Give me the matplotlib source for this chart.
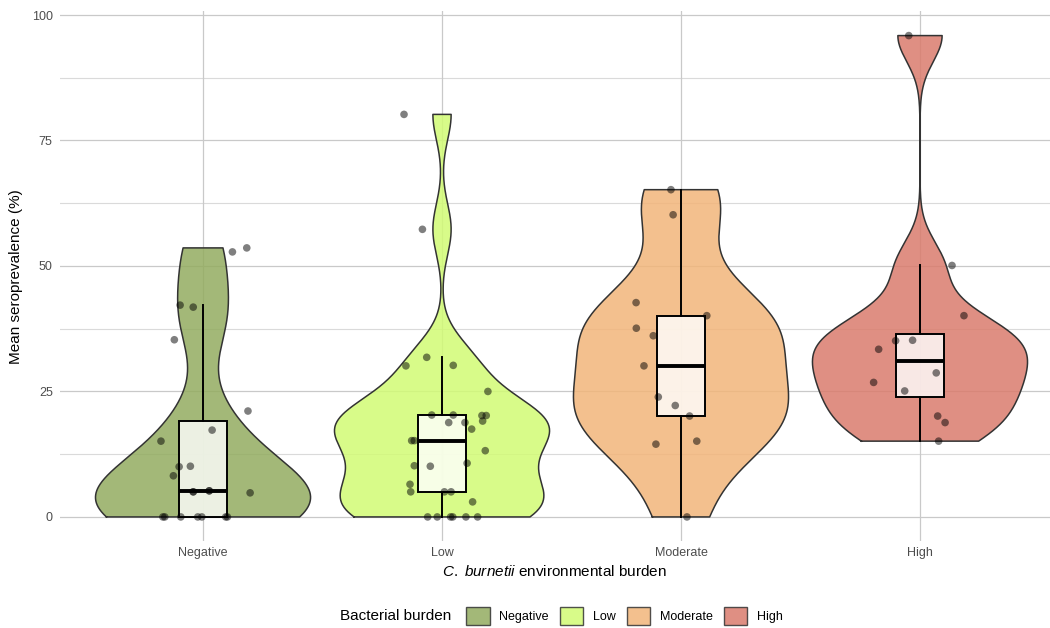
import numpy as np
import matplotlib
matplotlib.use("Agg")
import matplotlib.pyplot as plt
from matplotlib.patches import Patch

plt.rcParams['font.family'] = ['Liberation Sans', 'DejaVu Sans']
plt.rcParams['mathtext.fontset'] = 'custom'
plt.rcParams['mathtext.it'] = 'Liberation Sans:italic'
plt.rcParams['mathtext.rm'] = 'Liberation Sans'

# ---------------- data ----------------
categories = ["Negative", "Low", "Moderate", "High"]

negative_vals = [52.8, 53.6, 42.2, 41.8, 35.3, 21.1, 17.3, 15.1, 10.0, 10.1, 8.2, 5.0, 5.0, 5.2, 5.2, 4.8,
                 0, 0, 0, 0, 0, 0, 0]
negative_jit = [0.123, 0.183, -0.096, -0.041, -0.120, 0.188, 0.038, -0.176, -0.100, -0.053, -0.124,
                -0.041, -0.041, 0.026, 0.026, 0.197,
                -0.168, -0.160, -0.093, -0.022, -0.005, 0.095, 0.102]

low_vals = [80.2, 57.3, 31.8, 30.1, 30.2, 25.0, 20.3, 20.3, 20.2, 20.2, 18.8, 18.8, 19.1, 17.5,
            15.2, 15.2, 13.2, 10.2, 10.1, 10.7, 6.5, 5.0, 5.0, 5.0, 3.0,
            0, 0, 0, 0, 0, 0]
low_jit = [-0.159, -0.082, -0.064, -0.151, 0.047, 0.192, -0.043, 0.047, 0.167, 0.185, 0.028, 0.096,
           0.170, 0.124, -0.127, -0.116, 0.181, -0.116, -0.049, 0.105, -0.134, -0.131, 0.010, 0.038,
           0.128, -0.060, -0.020, 0.036, 0.045, 0.100, 0.149]

moderate_vals = [65.2, 60.2, 42.7, 40.1, 37.6, 36.1, 30.1, 23.9, 22.2, 20.1, 14.5, 15.1, 0]
moderate_jit = [-0.042, -0.033, -0.188, 0.108, -0.187, -0.116, -0.155, -0.095, -0.024, 0.036,
                -0.105, 0.066, 0.025]

high_vals = [95.9, 50.1, 40.1, 35.1, 35.2, 33.4, 28.7, 26.8, 25.1, 20.1, 18.8, 15.1]
high_jit = [-0.047, 0.134, 0.184, -0.102, -0.031, -0.173, 0.068, -0.194, -0.064, 0.074, 0.105, 0.078]

groups_vals = [negative_vals, low_vals, moderate_vals, high_vals]
groups_jit = [negative_jit, low_jit, moderate_jit, high_jit]

y_ticks = [0, 25, 50, 75, 100]
y_label = "Mean seroprevalence (%)"
x_label = r"$\it{C.\ burnetii}$ environmental burden"
legend_title = "Bacterial burden"

# ---------------- style ----------------
fill_colors = ["#93AC60", "#D2FB75", "#F2B57A", "#DA7C6D"]
fill_alpha = 0.85
outline = "#333333"
grid_major = "#C9C9C9"
grid_minor = "#DADADA"
text_gray = "#4D4D4D"


def bw_nrd0(x):
    x = np.asarray(x, float)
    hi = np.std(x, ddof=1)
    q75, q25 = np.percentile(x, [75, 25])
    lo = min(hi, (q75 - q25) / 1.34)
    if lo == 0:
        lo = hi or abs(x[0]) or 1.0
    return 0.9 * lo * len(x) ** (-0.2)


def kde(x, grid, bw):
    x = np.asarray(x, float)
    z = (grid[:, None] - x[None, :]) / bw
    return np.exp(-0.5 * z ** 2).sum(axis=1) / (len(x) * bw * np.sqrt(2 * np.pi))


fig = plt.figure(figsize=(10.5, 6.28), dpi=100)
ax = fig.add_axes([0.0568, 0.1385, 1 - 0.0568, 0.9817 - 0.1385])

xmin, xmax = 0.4, 4.544
ymin, ymax = -4.8, 100.7
ax.set_xlim(xmin, xmax)
ax.set_ylim(ymin, ymax)

# grid
for yv in y_ticks:
    ax.axhline(yv, color=grid_major, lw=0.9, zorder=0)
for yv in [12.5, 37.5, 62.5, 87.5]:
    ax.axhline(yv, color=grid_minor, lw=0.8, zorder=0)
for i in range(len(categories)):
    ax.axvline(i + 1, color=grid_major, lw=0.9, zorder=0)

half_width = 0.45
for i, (vals, jit) in enumerate(zip(groups_vals, groups_jit)):
    pos = i + 1
    vals_a = np.asarray(vals, float)
    grid = np.linspace(vals_a.min(), vals_a.max(), 512)
    dens = kde(vals_a, grid, bw_nrd0(vals_a))
    w = dens / dens.max() * half_width
    xs = np.concatenate([pos - w, (pos + w)[::-1]])
    ys = np.concatenate([grid, grid[::-1]])
    ax.fill(xs, ys, facecolor=fill_colors[i], alpha=fill_alpha, edgecolor="none", zorder=2)
    ax.plot(np.append(xs, xs[0]), np.append(ys, ys[0]), color=outline, lw=1.1, zorder=2.1)

    bp = ax.boxplot([vals_a], positions=[pos], widths=0.2, whis=1.5, showfliers=False,
                    showcaps=False, patch_artist=True, manage_ticks=False,
                    boxprops=dict(facecolor=(1, 1, 1, 0.8), edgecolor="black", linewidth=1.4),
                    whiskerprops=dict(color="black", linewidth=1.4),
                    medianprops=dict(color="black", linewidth=2.8, solid_capstyle="butt"))
    for art in bp["boxes"] + bp["whiskers"] + bp["medians"]:
        art.set_zorder(3)

    ax.scatter(pos + np.asarray(jit), vals_a, s=30, color="black", alpha=0.5,
               edgecolors="none", zorder=4)

ax.set_xticks(range(1, len(categories) + 1))
ax.set_xticklabels(categories)
ax.set_yticks(y_ticks)
ax.tick_params(axis="both", length=0, labelsize=9, labelcolor=text_gray)
ax.tick_params(axis="y", pad=5)
ax.tick_params(axis="x", pad=4)
for s in ax.spines.values():
    s.set_visible(False)

ax.set_ylabel(y_label, fontsize=11, color="black", labelpad=6)
ax.set_xlabel(x_label, fontsize=11, color="black", labelpad=4)

# legend
fig.text(340 / 1050, 1 - 616 / 628, legend_title, fontsize=11, ha="left", va="center")
handles = [Patch(facecolor=c, alpha=fill_alpha, edgecolor=outline, linewidth=1.0) for c in fill_colors]
fig.legend(handles, categories, loc="center left", bbox_to_anchor=(466 / 1050, 1 - 616 / 628),
           ncol=4, frameon=False, fontsize=9, handlelength=1.9, handleheight=1.9,
           handletextpad=0.78, columnspacing=0.85, borderpad=0, borderaxespad=0,
           labelcolor="black")

fig.savefig("out.png", dpi=100)
